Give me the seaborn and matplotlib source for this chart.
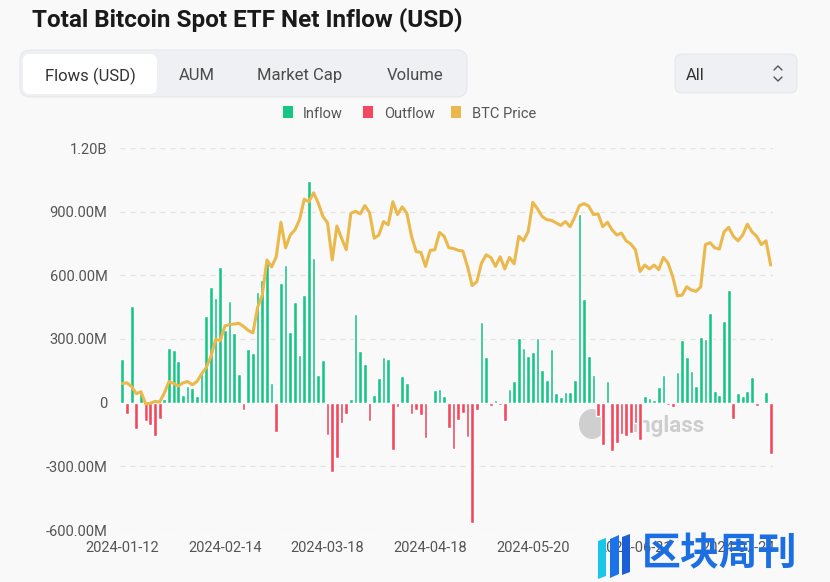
import matplotlib.pyplot as plt
from matplotlib.patches import FancyBboxPatch, Rectangle, Ellipse, Polygon
import pandas as pd
import seaborn as sns
import numpy as np

# Daily net flow, million USD, one value per US trading day from 2024-01-12
net_flow_m = [
    204, -52, 456, -126, 44, -86, -107, -157, -79, 16,
    256, 248, 198, 38, 80, 68, 33, 148, 407, 544,
    495, 638, 341, 478, 330, 137, -35, 251, 233, 522,
    578, 665, 94, -138, 564, 649, 333, 473, 225, 506,
    1046, 683, 132, 200, -152, -325, -261, -94, -52, 16,
    419, 244, 184, -86, 38, 115, 215, 204, -225, -20,
    124, 91, -55, -35, -58, -165, -5, 60, 63, 31,
    -121, -220, -82, -50, -162, -566, -35, 380, 217, -16,
    13, -9, -86, 66, 102, 303, 258, 220, 239, 305,
    154, 107, 251, 44, 27, 50, 50, 105, 888, 490,
    218, 130, -63, -201, 100, -228, -189, -146, -157, -141,
    -94, -176, 31, 20, 11, 72, 130, -9, -20, 143,
    297, 217, 149, 79, 311, 302, 424, 53, 38, 386,
    533, -79, 46, 30, 53, 123, -17, 0, 50, -240,
]

# BTC price, thousand USD, same days
btc_price_k = [
    43.2, 43.3, 42.7, 41.6, 41.9, 40.0, 40.1, 40.4, 40.3, 41.7,
    43.5, 43.2, 42.8, 43.3, 43.5, 43.0, 43.5, 44.7, 45.7, 47.4,
    50.1, 49.9, 52.2, 52.4, 52.5, 52.6, 52.1, 51.5, 51.1, 55.1,
    57.0, 62.5, 61.4, 63.0, 68.4, 64.4, 66.4, 67.2, 68.8, 72.0,
    71.6, 73.0, 71.4, 69.3, 68.3, 62.5, 67.8, 65.9, 64.1, 69.8,
    70.1, 69.7, 71.0, 69.9, 65.9, 66.4, 68.5, 68.0, 71.6, 69.6,
    70.8, 69.8, 66.2, 63.8, 63.7, 61.5, 64.0, 64.1, 66.8, 66.2,
    64.4, 64.3, 64.0, 63.9, 61.5, 58.5, 59.1, 62.0, 63.3, 62.9,
    61.5, 63.0, 61.1, 62.9, 61.9, 66.2, 65.5, 66.9, 71.5, 70.5,
    69.3, 68.8, 68.7, 68.3, 67.9, 68.5, 67.7, 69.2, 71.0, 71.3,
    70.9, 69.6, 69.7, 67.7, 68.4, 67.2, 66.4, 66.7, 65.5, 65.0,
    64.1, 60.7, 61.7, 61.1, 61.7, 61.0, 62.9, 62.0, 59.9, 56.9,
    57.0, 58.3, 57.8, 57.6, 58.3, 64.9, 65.2, 64.4, 64.2, 66.9,
    67.6, 66.2, 65.5, 66.4, 68.1, 66.9, 66.2, 64.9, 65.5, 61.7,
]

market_holidays = ['2024-01-15', '2024-02-19', '2024-03-29',
                   '2024-05-27', '2024-06-19', '2024-07-04']
tick_step = 22

y_ticks = [-600e6, -300e6, 0, 300e6, 600e6, 900e6, 1200e6]
y_labels = ['-600.00M', '-300.00M', '0', '300.00M', '600.00M', '900.00M', '1.20B']
tabs = ['Flows (USD)', 'AUM', 'Market Cap', 'Volume']
legend_names = ['Inflow', 'Outflow', 'BTC Price']

GREEN = '#16c784'
RED = '#f6465d'
GOLD = '#ebb84c'
BG = '#f9f9f9'

dates = pd.bdate_range('2024-01-12', periods=len(net_flow_m), freq='C',
                       holidays=market_holidays)
df = pd.DataFrame({
    'day': np.arange(len(net_flow_m)),
    'flow': np.array(net_flow_m) * 1e6,
    'price': btc_price_k,
})
df['kind'] = np.where(df.flow >= 0, 'Inflow', 'Outflow')

sns.set_style('white')
plt.rcParams['font.family'] = ['Roboto', 'DejaVu Sans']

fig = plt.figure(figsize=(8.3, 5.82), dpi=100, facecolor=BG)

# background layer in pixel coordinates (tabs, legend, watermark)
bg = fig.add_axes([0, 0, 1, 1])
bg.set_xlim(0, 830)
bg.set_ylim(582, 0)
bg.axis('off')
bg.patch.set_alpha(0)

bg.add_patch(FancyBboxPatch((20, 50), 447, 47, boxstyle='round,pad=0,rounding_size=10',
                            fc='#eef0f3', ec='#e6e8ec', lw=0.8))
bg.add_patch(FancyBboxPatch((23, 54), 134, 40, boxstyle='round,pad=0,rounding_size=7',
                            fc='white', ec='none'))
for label, cx in zip(tabs, [90, 197, 300, 415]):
    bg.text(cx, 74, label, ha='center', va='center_baseline', fontsize=12,
            color='#333333' if label == tabs[0] else '#4a4a4a')

bg.add_patch(FancyBboxPatch((675, 54), 122, 39, boxstyle='round,pad=0,rounding_size=7',
                            fc='#eef0f3', ec='#e6e8ec', lw=0.8))
bg.text(686, 74, 'All', ha='left', va='center_baseline', fontsize=12, color='#333333')
bg.plot([774, 778, 782], [70, 66, 70], color='#555555', lw=1)
bg.plot([774, 778, 782], [77, 81, 77], color='#555555', lw=1)

for name, col, sx, tx in zip(legend_names, [GREEN, RED, GOLD], [283, 363, 451], [303, 384, 472]):
    bg.add_patch(Rectangle((sx, 106), 10, 12, fc=col, ec='none'))
    bg.text(tx, 113, name, ha='left', va='center_baseline', fontsize=10.5, color='#555555')

# coinglass watermark
bg.add_patch(Ellipse((592, 424), 26, 30, fc='#cfcfcf', ec='none'))
bg.text(608, 426, 'coinglass', ha='left', va='center', fontsize=16,
        fontweight='bold', color='#cdcdcd')

fig.text(32 / 830, 1 - 20 / 582, 'Total Bitcoin Spot ETF Net Inflow (USD)',
         ha='left', va='center', fontsize=17.5, fontweight='bold', color='#1a1a1a')

# main chart
ax = fig.add_axes([120 / 830, 52 / 582, 653 / 830, 382 / 582])
ax.patch.set_alpha(0)
sns.barplot(data=df, x='day', y='flow', hue='kind',
            palette={'Inflow': GREEN, 'Outflow': RED},
            dodge=False, width=0.8, errorbar=None, legend=False,
            saturation=1, ax=ax)
ax.set_xlim(-0.5, len(df) - 0.5)
ax.set_ylim(-600e6, 1200e6)
ax.set_yticks(y_ticks)
ax.set_yticklabels(y_labels)
ax.set_xticks(df.day[::tick_step])
ax.set_xticklabels([d.strftime('%Y-%m-%d') for d in dates[::tick_step]])
ax.tick_params(axis='both', length=0, labelsize=10.5, labelcolor='#555555')
ax.tick_params(axis='x', pad=8)
ax.tick_params(axis='y', pad=9)
ax.set_xlabel('')
ax.set_ylabel('')
ax.grid(axis='y', color='#e2e2e2', linestyle=(0, (4, 4)), linewidth=0.9)
ax.set_axisbelow(True)
sns.despine(ax=ax, left=True, bottom=True)

ax2 = ax.twinx()
sns.lineplot(data=df, x='day', y='price', color=GOLD, linewidth=2.2, ax=ax2)
ax2.set_ylim(20.3, 80.0)
ax2.set_xlim(-0.5, len(df) - 0.5)
ax2.axis('off')

# site watermark at the bottom right
fig.patches.append(Polygon([(598 / 830, 1 - 541 / 582), (606 / 830, 1 - 538 / 582),
                            (606 / 830, 1 - 576 / 582), (598 / 830, 1 - 579 / 582)],
                           closed=True, fc='#19c6ea', ec='none', transform=fig.transFigure))
fig.patches.append(Polygon([(610 / 830, 1 - 539 / 582), (619 / 830, 1 - 535 / 582),
                            (619 / 830, 1 - 574 / 582), (610 / 830, 1 - 578 / 582)],
                           closed=True, fc='#1a73e8', ec='none', transform=fig.transFigure))
fig.patches.append(Polygon([(622 / 830, 1 - 537 / 582), (630 / 830, 1 - 534 / 582),
                            (630 / 830, 1 - 572 / 582), (622 / 830, 1 - 575 / 582)],
                           closed=True, fc='#1a5fd6', ec='none', transform=fig.transFigure))
fig.text(720 / 830, 1 - 554 / 582, '区块周刊', ha='center', va='center',
         fontsize=28, fontweight='bold', color='#1b6fe3',
         family=['Noto Sans CJK SC', 'DejaVu Sans'], zorder=10)

fig.savefig('out.png', dpi=100, facecolor=BG)
